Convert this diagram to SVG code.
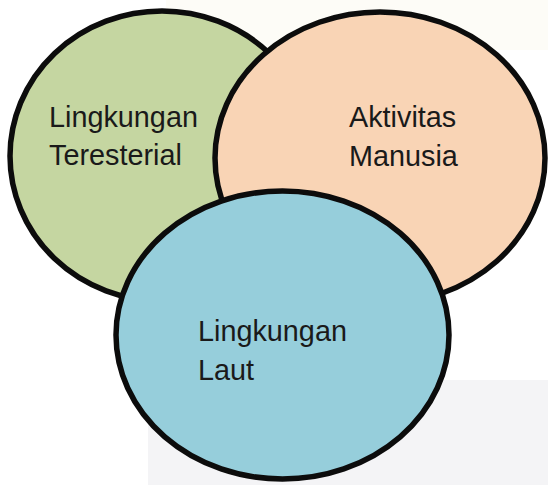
<svg xmlns="http://www.w3.org/2000/svg" width="548" height="485" viewBox="0 0 548 485">
<style>
.c{stroke:#0c0c0c;stroke-width:5.5}
.t{font-family:"Liberation Sans",Arial,sans-serif;font-size:28.8px;fill:#1a1a1a}
</style>
<rect width="548" height="485" fill="#ffffff"/>
<g id="watermark">
<rect x="148" y="380" width="400" height="105" fill="#f4f4f6"/>
<rect x="166" y="0" width="382" height="50" fill="#fdfcf7"/>
</g>
<g id="terestrial">
<ellipse class="c" cx="162" cy="156" rx="152" ry="145" fill="#c5d6a1"/>
<text class="t" x="49" y="127">Lingkungan</text>
<text class="t" x="49" y="165">Teresterial</text>
</g>
<g id="manusia">
<ellipse class="c" cx="380" cy="158" rx="165" ry="146" fill="#f9d4b5"/>
<text class="t" x="349" y="127">Aktivitas</text>
<text class="t" x="349" y="166">Manusia</text>
</g>
<g id="laut">
<ellipse class="c" cx="282.5" cy="335" rx="166.5" ry="144" fill="#96cedb"/>
<text class="t" x="198" y="341">Lingkungan</text>
<text class="t" x="198" y="380">Laut</text>
</g>
<g id="connectors"/>
</svg>
